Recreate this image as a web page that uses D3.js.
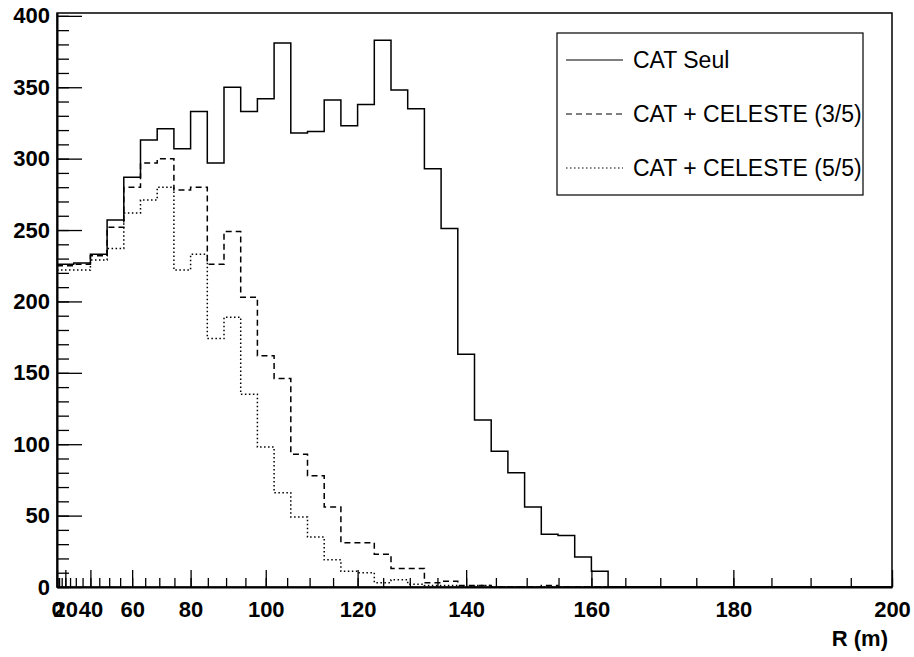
<!DOCTYPE html>
<html>
<head>
<meta charset="utf-8">
<script src="https://cdn.jsdelivr.net/npm/d3@7"></script>
<style>
body{margin:0;background:#fff;}
text{font-family:"Liberation Sans",Arial,Helvetica,sans-serif;}
</style>
</head>
<body>
<div id="chart"></div>
<script>
// histogram filled in R^2 : 50 bins of 800 m^2 between R = 0 and R = 200 m
var binEdges = d3.range(0, 40001, 800);

var catSeul = [226,227,233,257,287,313,321,307,333,297, 350,333,342,381,318,319,341,323,338,383,
               348,335,293,251,163,117,95,80,56,37, 36,21,11,0,0,0,0,0,0,0, 0,0,0,0,0,0,0,0,0,0];
var celeste35 = [225,226,232,252,280,297,300,278,280,226, 249,203,162,146,93,78,56,31,31,23,
                 13,13,3,4,1,1,0,0,0,1, 0,0,0,0,0,0,0,0,0,0, 0,0,0,0,0,0,0,0,0,0];
var celeste55 = [222,222,229,237,262,271,280,222,233,174, 189,135,98,66,49,35,19,11,10,3,
                 5,2,1,1,0,1,0,0,0,0, 0,0,0,0,0,0,0,0,0,0, 0,0,0,0,0,0,0,0,0,0];

var seriesNames = ["CAT Seul", "CAT + CELESTE (3/5)", "CAT + CELESTE (5/5)"];
var xTickLabels = [0,20,40,60,80,100,120,140,160,180,200];
var xMinorTicks = d3.range(0, 201, 5);
var yTickLabels = [0,50,100,150,200,250,300,350,400];
var yMinorTicks = d3.range(0, 401, 10);

var width = 914, height = 657;
var margin = {top: 13, right: 22, bottom: 70, left: 57};

var svg = d3.select("#chart").append("svg")
    .attr("width", width)
    .attr("height", height);

// bins are equal in R^2, the axis is labelled in R
var xBins = d3.scaleLinear().domain([0, 40000]).range([margin.left, width - margin.right]);
var xR = d3.scalePow().exponent(2).domain([0, 200]).range([margin.left, width - margin.right]);
var y = d3.scaleLinear().domain([0, 402]).range([height - margin.bottom, margin.top]);

// frame
svg.append("rect")
    .attr("x", margin.left)
    .attr("y", margin.top)
    .attr("width", width - margin.left - margin.right)
    .attr("height", height - margin.top - margin.bottom)
    .attr("fill", "none")
    .attr("stroke", "#000")
    .attr("stroke-width", 1.5);

// minor ticks
svg.append("g")
    .attr("transform", "translate(0," + (height - margin.bottom) + ")")
    .call(d3.axisBottom(xR).tickValues(xMinorTicks).tickSize(-9).tickFormat(""))
    .call(function(g){ g.select(".domain").remove(); });
svg.append("g")
    .attr("transform", "translate(" + margin.left + ",0)")
    .call(d3.axisLeft(y).tickValues(yMinorTicks).tickSize(-12).tickFormat(""))
    .call(function(g){ g.select(".domain").remove(); });

// major ticks + labels
var xAxis = svg.append("g")
    .attr("transform", "translate(0," + (height - margin.bottom) + ")")
    .call(d3.axisBottom(xR).tickValues(xTickLabels).tickSize(-17).tickPadding(14).tickSizeOuter(0));
var yAxis = svg.append("g")
    .attr("transform", "translate(" + margin.left + ",0)")
    .call(d3.axisLeft(y).tickValues(yTickLabels).tickSize(-25).tickPadding(7).tickSizeOuter(0));

svg.selectAll(".tick line").attr("stroke", "#000").attr("stroke-width", 1.3);
svg.selectAll(".domain").attr("stroke", "#000").attr("stroke-width", 2);
svg.selectAll(".tick text")
    .attr("fill", "#000")
    .style("font-size", "22px")
    .style("font-weight", "bold")
    .style("font-family", '"Liberation Sans", Arial, sans-serif');

svg.append("text")
    .attr("x", 888)
    .attr("y", 646)
    .attr("text-anchor", "end")
    .style("font-size", "22px")
    .style("font-weight", "bold")
    .text("R (m)");

// histograms
var styles = [
    {data: catSeul, dash: null},
    {data: celeste35, dash: "6,4"},
    {data: celeste55, dash: "1.5,2.5"}
];

var line = d3.line()
    .x(function(d){ return xBins(d[0]); })
    .y(function(d){ return y(d[1]); })
    .curve(d3.curveStepAfter);

styles.forEach(function(s){
    var pts = s.data.map(function(v, i){ return [binEdges[i], v]; });
    pts.push([binEdges[binEdges.length - 1], s.data[s.data.length - 1]]);
    svg.append("path")
        .datum(pts)
        .attr("d", line)
        .attr("fill", "none")
        .attr("stroke", "#000")
        .attr("stroke-width", 1.5)
        .attr("stroke-dasharray", s.dash);
});

// legend
var legend = svg.append("g");
legend.append("rect")
    .attr("x", 557)
    .attr("y", 33)
    .attr("width", 306)
    .attr("height", 162)
    .attr("fill", "#fff")
    .attr("stroke", "#000")
    .attr("stroke-width", 1.2);

seriesNames.forEach(function(name, i){
    var ly = 60 + i * 54;
    legend.append("line")
        .attr("x1", 566).attr("x2", 623)
        .attr("y1", ly).attr("y2", ly)
        .attr("stroke", "#000")
        .attr("stroke-width", 1.2)
        .attr("stroke-dasharray", styles[i].dash);
    legend.append("text")
        .attr("x", 633)
        .attr("y", ly)
        .attr("dy", "0.35em")
        .style("font-size", "23px")
        .text(name);
});
</script>
</body>
</html>
